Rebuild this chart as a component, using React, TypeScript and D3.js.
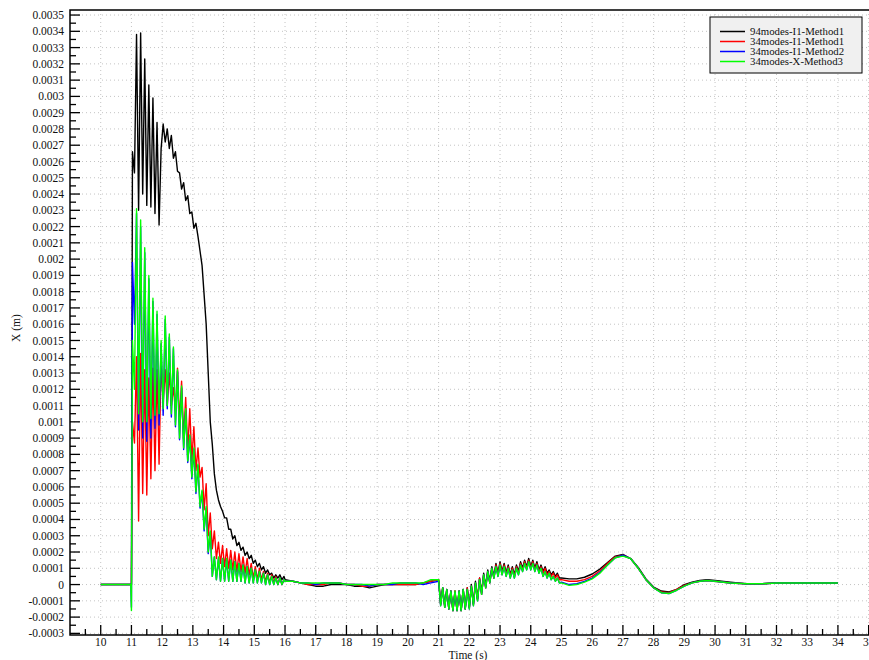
import * as React from "react";
import { line, range, scaleLinear } from "d3";

// sample times (s), one grid shared by the four runs
const flatTimes = [10, 10.98, 11];
const burstTimes = range(75).map((i) => 11.033 + i / 15);
const settleTimes = range(20).map((i) => 16 + i * 0.25);
const waveTimes = range(60).map((i) => 21 + i / 15);
const tailTimes = [...range(20).map((i) => 25 + i * 0.25), ...range(9).map((i) => 30 + i * 0.5)];
const times = [...flatTimes, ...burstTimes, ...settleTimes, ...waveTimes, ...tailTimes];

// displacement X, in units of 1e-5 m
const blackFlat = [0, 0, 0];
const blackBurst = [
  266, 253, 338, 230, 339, 240, 323, 233, 307, 232, 299, 228, 284, 221,
  268, 283, 272, 280, 268, 276, 262, 266, 254, 253, 243, 247, 236, 239, 228, 229, 219, 222, 214, 205, 196, 178, 160, 130, 100, 86, 68, 58, 52, 48,
  45, 41, 41, 34, 34, 28, 30, 24, 26, 21, 23, 18, 20, 16, 18, 13, 15, 11, 13, 9, 11, 7, 9, 6, 7, 4, 6, 4, 6, 3, 5,
];
const blackSettle = [3, 2, 1, 0, -1, -1, 0, 0, 0, -1, -1, -2, -1, 0, 0, 0, 0, 0, 1, 2];
const blackWave = [
  3, -12, -2, -13, -3, -15, -4, -16, -4, -16, -4, -16, -3, -15, -2, -14, 0, -12, 2, -9,
  4, -5, 7, -1, 9, 2, 11, 5, 13, 7, 14, 8, 13, 7, 12, 6, 11, 6, 12, 8,
  14, 10, 15, 11, 16, 11, 15, 10, 14, 9, 12, 8, 11, 7, 9, 6, 8, 5, 7, 4,
];
const blackTail = [4, 3.5, 3.5, 4.5, 6.5, 9.5, 13.5, 17.5, 18.5, 16, 10.5, 3.5, -1.5, -4, -4.5, -3, 0, 1.5, 2.5, 3, 2.5, 1.5, 0.5, 0.5, 1, 1, 1, 1, 1];

const redFlat = [0, 0, 0];
const redBurst = [
  100, 87, 140, 39, 142, 56, 132, 55, 127, 65, 133, 70, 132, 74,
  136, 112, 132, 110, 130, 110, 121, 107, 133, 100, 125, 90, 115, 82, 108, 76, 97, 70, 84, 66, 72, 46, 62, 30, 44, 22, 33, 16, 26, 13,
  24, 11, 22, 10, 21, 9, 20, 8, 19, 8, 17, 7, 16, 6, 13, 4, 11, 3, 10, 3, 8, 2, 7, 1, 6, 1, 5, 0, 4, 0, 3,
];
const redSettle = [2, 2, 1, 0, 0, 0, 1, 1, 0, 0, -1, -1, 0, 0, 0, 0, 0, 0, 1, 2];
const redWave = [
  3, -12, -2, -14, -3, -15, -4, -16, -4, -16, -4, -16, -3, -15, -2, -14, -1, -12, 1, -9,
  4, -6, 6, -2, 8, 1, 10, 4, 12, 6, 13, 7, 12, 6, 11, 5, 10, 5, 11, 7,
  13, 9, 14, 10, 15, 10, 14, 9, 13, 8, 11, 7, 10, 6, 8, 5, 7, 4, 6, 3,
];
const redTail = [3, 2, 2, 3, 5, 8.5, 13, 17, 18, 16, 10, 3, -2, -4.5, -5, -3, -0.5, 1, 2, 2.5, 2, 1, 0.5, 0.5, 1, 1, 1, 1, 1];

const blueFlat = [0, 0, -14];
const blueBurst = [
  198, 160, 228, 95, 220, 90, 204, 88, 188, 90, 174, 96, 166, 98,
  148, 104, 163, 108, 152, 103, 145, 97, 131, 89, 121, 83, 107, 75, 91, 65, 83, 56, 73, 47, 57, 33, 47, 19, 32, 5, 17, 3, 16, 2,
  16, 2, 15, 2, 15, 2, 14, 2, 13, 2, 12, 1, 11, 1, 10, 1, 9, 1, 8, 1, 7, 0, 6, 0, 5, 0, 4, 0, 4, 0, 3,
];
const blueSettle = [2, 2, 1, 1, 0, 1, 1, 1, 0, 0, 0, -1, 0, 0, 0, 1, 1, 1, 0, 1];
const blueWave = [
  2, -13, -2, -14, -3, -15, -4, -16, -5, -16, -4, -16, -3, -15, -3, -15, -1, -13, 1, -10,
  3, -6, 6, -2, 8, 1, 10, 4, 11, 5, 12, 6, 11, 5, 10, 4, 9, 4, 10, 6,
  12, 8, 13, 9, 14, 9, 13, 8, 12, 7, 10, 5, 8, 4, 7, 3, 5, 2, 4, 1,
];
const blueTail = [1.5, 0, 0.5, 2, 4, 7.5, 12, 16.5, 18, 16, 10, 3, -2, -5, -5.5, -3.5, -1, 1, 2, 2.5, 2, 1, 0.5, 0.5, 1, 1, 1, 1, 1];

const greenFlat = [0, 0, -16];
const greenBurst = [
  150, 120, 231, 105, 224, 100, 207, 100, 190, 102, 176, 104, 168, 105,
  150, 108, 165, 110, 154, 105, 146, 98, 132, 90, 122, 84, 108, 76, 92, 66, 84, 57, 74, 48, 58, 34, 48, 20, 33, 5, 17, 3, 17, 2,
  16, 2, 16, 2, 15, 2, 14, 2, 13, 2, 12, 1, 11, 1, 10, 1, 9, 1, 8, 1, 7, 0, 6, 0, 5, 0, 4, 0, 4, 0, 3,
];
const greenSettle = [2, 2, 1, 1, 1, 1, 1, 1, 0, 0, 0, 0, 0, 0, 1, 1, 1, 1, 1, 3];
const greenWave = [
  3, -13, -2, -14, -3, -15, -4, -16, -4, -16, -4, -16, -3, -15, -3, -15, -1, -13, 1, -10,
  3, -6, 6, -2, 8, 1, 10, 4, 11, 5, 12, 6, 11, 5, 10, 4, 9, 4, 10, 6,
  12, 8, 13, 9, 14, 9, 13, 8, 12, 7, 10, 5, 8, 4, 7, 3, 5, 2, 4, 1,
];
const greenTail = [1, -0.5, 0, 1.5, 3.5, 7, 12, 16.5, 17.5, 16, 10, 3, -2, -5, -5.5, -3.5, -1, 1, 2, 2.5, 2, 1, 0.5, 0.5, 1, 1, 1, 1, 1];

const seriesNames = ["94modes-I1-Method1", "34modes-I1-Method1", "34modes-I1-Method2", "34modes-X-Method3"];
const seriesColors = ["#000000", "#ff0000", "#0000ff", "#00ff00"];
const seriesValues = [
  [...blackFlat, ...blackBurst, ...blackSettle, ...blackWave, ...blackTail],
  [...redFlat, ...redBurst, ...redSettle, ...redWave, ...redTail],
  [...blueFlat, ...blueBurst, ...blueSettle, ...blueWave, ...blueTail],
  [...greenFlat, ...greenBurst, ...greenSettle, ...greenWave, ...greenTail],
];

const font = "'Liberation Serif', 'Times New Roman', serif";

export default function App() {
  const left = 70;
  const top = 10;
  const bottom = 635;
  const right = 884;

  const x = scaleLinear().domain([9, 35.5]).range([left, right]);
  const y = scaleLinear().domain([-0.00031, 0.003531]).range([bottom, top]);

  const xMajor = range(10, 36);
  const xMinor = range(9.5, 35.5, 1);
  const yMajor = range(-3, 36); // tenths of a millimetre
  const yMinor = range(-2.5, 35, 1);

  const path = line<number>()
    .x((_, i) => x(times[i]))
    .y((d) => y(d * 1e-5));

  return (
    <svg width={869} height={660} style={{ position: "absolute", left: 0, top: 0, background: "#fff" }}>
      <defs>
        <clipPath id="plot">
          <rect x={left} y={top} width={right - left} height={bottom - top} />
        </clipPath>
      </defs>

      {/* dotted grid */}
      <g stroke="#c4c4c4" strokeWidth={1} strokeDasharray="1,3">
        {xMajor.map((t) => (
          <line key={`gx${t}`} x1={x(t)} x2={x(t)} y1={top} y2={bottom} />
        ))}
        {yMajor.map((k) => (
          <line key={`gy${k}`} x1={left} x2={right} y1={y(k * 1e-4)} y2={y(k * 1e-4)} />
        ))}
      </g>

      {/* data */}
      <g clipPath="url(#plot)" fill="none" strokeWidth={1.4} strokeLinejoin="round">
        {seriesValues.map((vals, i) => (
          <path key={seriesNames[i]} d={path(vals) ?? ""} stroke={seriesColors[i]} />
        ))}
      </g>

      {/* ticks */}
      <g stroke="#000" strokeWidth={1.3}>
        {xMajor.map((t) => (
          <line key={`tx${t}`} x1={x(t)} x2={x(t)} y1={bottom} y2={bottom - 10} />
        ))}
        {xMinor.map((t) => (
          <line key={`mx${t}`} x1={x(t)} x2={x(t)} y1={bottom} y2={bottom - 6} />
        ))}
        {yMajor.map((k) => (
          <line key={`ty${k}`} x1={left} x2={left + 10} y1={y(k * 1e-4)} y2={y(k * 1e-4)} />
        ))}
        {yMinor.map((k) => (
          <line key={`my${k}`} x1={left} x2={left + 6} y1={y(k * 1e-4)} y2={y(k * 1e-4)} />
        ))}
      </g>

      {/* frame */}
      <path d={`M${right},${top}H${left}V${bottom}H${right}`} fill="none" stroke="#000" strokeWidth={1.5} />

      {/* tick labels */}
      <g fontFamily={font} fontSize={11.5} fill="#111">
        {xMajor.map((t) => (
          <text key={`lx${t}`} x={x(t)} y={bottom + 11} textAnchor="middle">
            {t}
          </text>
        ))}
        {yMajor.map((k) => (
          <text key={`ly${k}`} x={left - 6} y={y(k * 1e-4)} dy="0.35em" textAnchor="end">
            {`${k / 10000}`}
          </text>
        ))}
      </g>

      {/* axis titles */}
      <text x={468} y={659} textAnchor="middle" fontFamily={font} fontSize={11.5} fill="#111">
        Time (s)
      </text>
      <text
        transform="translate(20,328) rotate(-90)"
        textAnchor="middle"
        fontFamily={font}
        fontSize={11.5}
        fill="#111"
      >
        X (m)
      </text>

      {/* legend */}
      <g>
        <rect x={710} y={17} width={152} height={56} fill="#f0f0f0" stroke="#000" strokeWidth={1} />
        {seriesNames.map((name, i) => {
          const ly = 31.5 + i * 10;
          return (
            <g key={name}>
              <line x1={720} x2={745} y1={ly} y2={ly} stroke={seriesColors[i]} strokeWidth={1.5} />
              <text x={750} y={ly} dy="0.33em" fontFamily={font} fontSize={10.8} fill="#111">
                {name}
              </text>
            </g>
          );
        })}
      </g>
    </svg>
  );
}
